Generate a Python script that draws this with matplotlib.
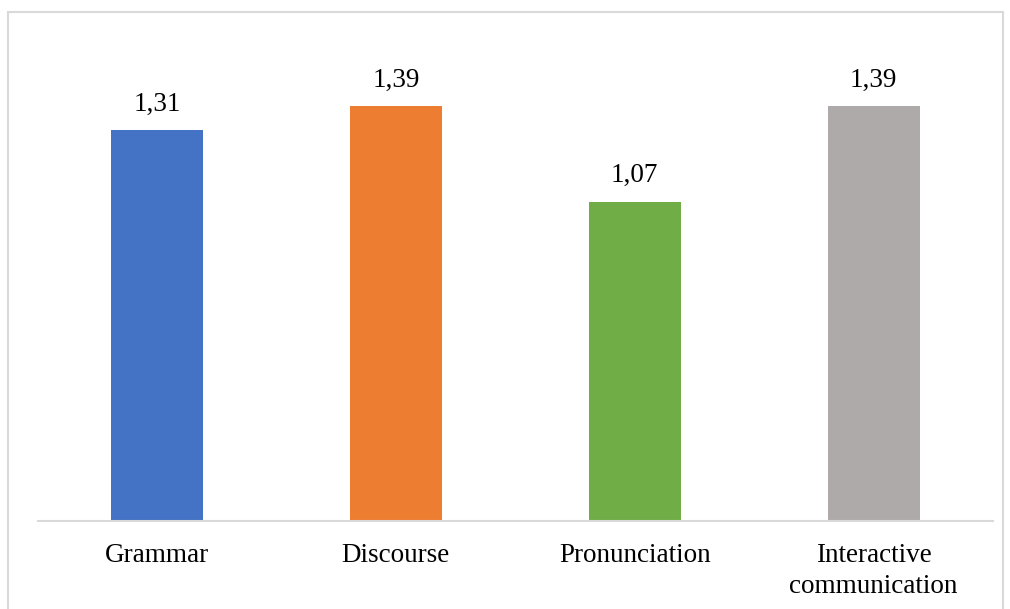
import matplotlib
matplotlib.use('Agg')
import matplotlib.pyplot as plt
from matplotlib.patches import Rectangle

categories = ['Grammar', 'Discourse', 'Pronunciation', 'Interactive\ncommunication']
values = [1.31, 1.39, 1.07, 1.39]
labels = ['1,31', '1,39', '1,07', '1,39']
colors = ['#4472C4', '#ED7D31', '#70AD47', '#AEAAAA']

plt.rcParams['font.family'] = ['Liberation Serif', 'DejaVu Serif']

fig = plt.figure(figsize=(10.1, 6.09), dpi=100)
# rahmen um die grafik
fig.patches.append(Rectangle((8 / 1010, -0.05), (1003 - 8) / 1010, (609 - 12) / 609 + 0.05,
                             transform=fig.transFigure, fill=False,
                             edgecolor='#D9D9D9', linewidth=1.5))

ax = fig.add_axes([37.5 / 1010, (609 - 521) / 609, (993 - 37.5) / 1010, (521 - 20) / 609])
x = range(len(categories))
ax.bar(x, values, width=0.385, color=colors)
for i, v in enumerate(values):
    ax.text(i, v + 0.045, labels[i], ha='center', va='bottom', fontsize=19.5)

ax.set_xlim(-0.5, len(categories) - 0.5)
ax.set_ylim(0, 501 / 298.5)
ax.set_xticks(list(x))
ax.set_xticklabels(categories, fontsize=19.5, linespacing=1.3)
ax.tick_params(axis='x', length=0, pad=16)
ax.set_yticks([])
for s in ['top', 'right', 'left']:
    ax.spines[s].set_visible(False)
ax.spines['bottom'].set_color('#D9D9D9')
ax.spines['bottom'].set_linewidth(1.5)

plt.savefig('out.png', dpi=100)
